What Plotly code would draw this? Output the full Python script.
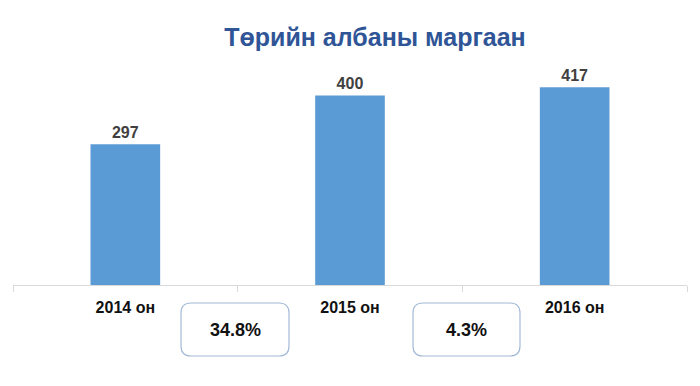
import plotly.graph_objects as go

categories = ["2014 он", "2015 он", "2016 он"]
values = [297, 400, 417]
value_labels = ["297", "400", "417"]
growth_labels = ["34.8%", "4.3%"]
title_text = "Төрийн албаны маргаан"

W, H = 700, 386
OFF = 8  # page body margin offset
# desired plot area in page pixels
PL, PR, PT, PB = 13, 687, 48, 285
ML = PL - OFF
MR = W - (PR - OFF)
MT = PT - OFF
MB = H - (PB - OFF)
pw = PR - PL
ph = PB - PT

fig = go.Figure(go.Bar(
    x=categories, y=values, text=value_labels,
    textposition="outside", cliponaxis=False,
    textfont=dict(family="Liberation Sans", size=16, color="#404040", weight="bold"),
    marker=dict(color="#5B9BD5", line=dict(width=0)),
    hoverinfo="skip",
))

def px2paper(x, y):
    return (x - PL) / pw, (PB - y) / ph

def rounded_box(x0, y0, x1, y1, r=10):
    rx, ry = r / pw, r / ph
    a, b = px2paper(x0, y1)  # bottom-left
    c, d = px2paper(x1, y0)  # top-right
    return (f"M {a+rx},{b} L {c-rx},{b} Q {c},{b} {c},{b+ry} "
            f"L {c},{d-ry} Q {c},{d} {c-rx},{d} L {a+rx},{d} "
            f"Q {a},{d} {a},{d-ry} L {a},{b+ry} Q {a},{b} {a+rx},{b} Z")

boxes = [(181, 303, 289, 356), (413, 303, 520, 356)]
shapes, annotations = [], []
for (x0, y0, x1, y1), lab in zip(boxes, growth_labels):
    shapes.append(dict(type="path", xref="paper", yref="paper",
                       path=rounded_box(x0, y0, x1, y1),
                       line=dict(color="#A3BAD6", width=1.2), fillcolor="white"))
    cx, cy = px2paper((x0 + x1) / 2, 330)
    annotations.append(dict(x=cx, y=cy, xref="paper", yref="paper", text=lab,
                            showarrow=False, xanchor="center", yanchor="middle",
                            font=dict(family="Liberation Sans", size=18, color="#111111", weight="bold")))

fig.update_layout(
    width=W, height=H,
    margin=dict(l=ML, r=MR, t=MT, b=MB, autoexpand=False),
    paper_bgcolor="white", plot_bgcolor="white",
    bargap=0.69,
    showlegend=False,
    title=dict(text=title_text, x=(375 - OFF) / W, xanchor="center",
               y=1 - (37 - OFF) / H, yanchor="middle",
               font=dict(family="Liberation Sans", size=25, color="#2F5597", weight="bold")),
    xaxis=dict(type="category", tickson="boundaries", ticks="outside", ticklen=6,
               tickcolor="#D9D9D9", showline=True, linecolor="#D9D9D9", linewidth=1,
               showgrid=False, zeroline=False, ticklabelstandoff=8,
               tickfont=dict(family="Liberation Sans", size=16, color="#111111", weight="bold")),
    yaxis=dict(range=[0, 500], visible=False, showgrid=False, zeroline=False),
    shapes=shapes, annotations=annotations,
)

fig.write_html("out.html")
